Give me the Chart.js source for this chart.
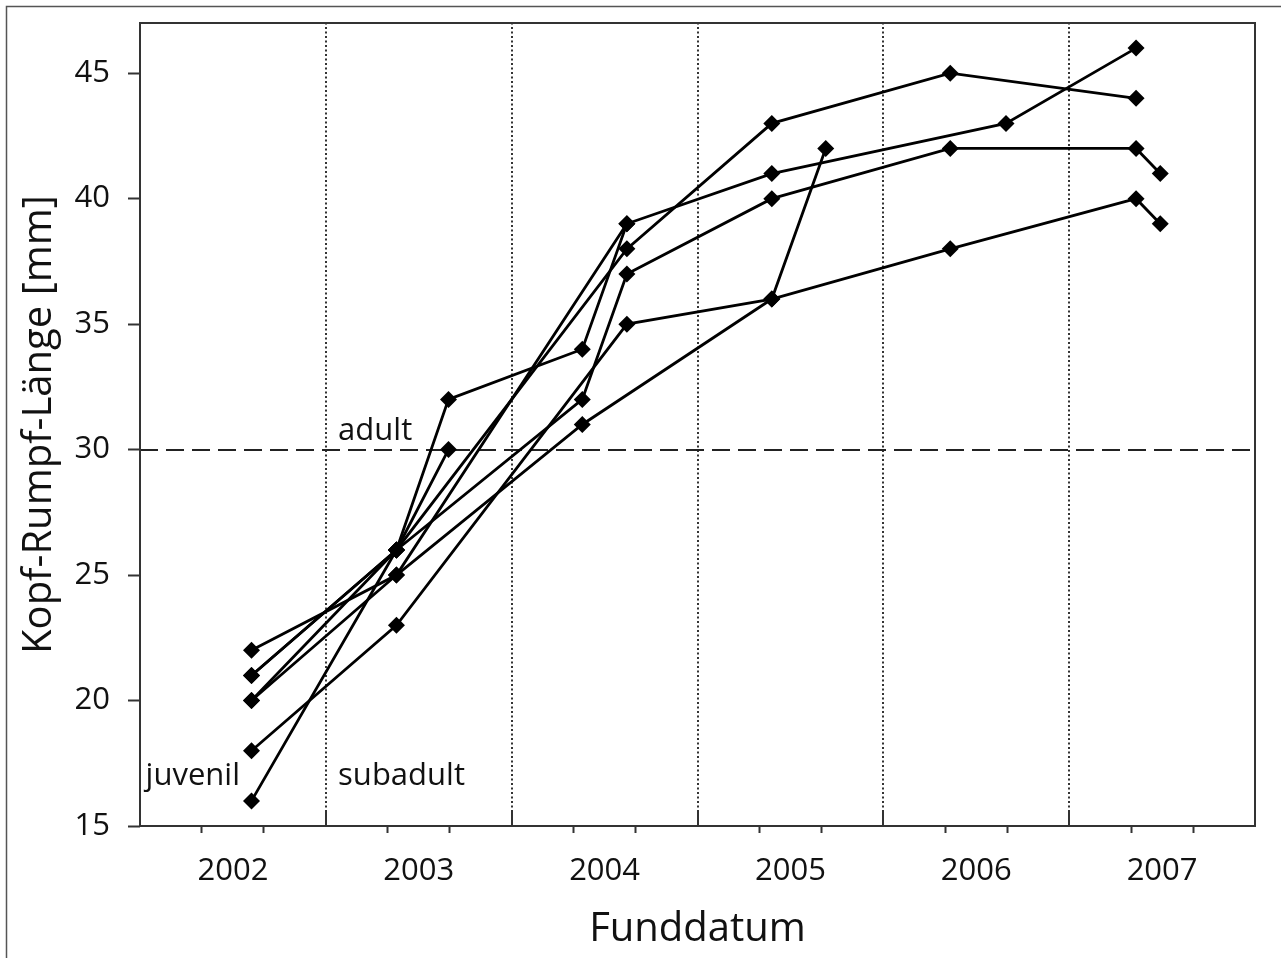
<!DOCTYPE html>
<html lang="de">
<head>
<meta charset="utf-8">
<title>Kopf-Rumpf-Länge nach Funddatum</title>
<script src="https://cdn.jsdelivr.net/npm/chart.js@4.4.1/dist/chart.umd.min.js"></script>
<style>
    html, body { margin: 0; padding: 0; background: #fff; overflow: hidden; }
    #wrap { position: relative; width: 1281px; height: 958px; }
</style>
</head>
<body>
<div id="wrap"><canvas id="krlChart"></canvas></div>
<script>
// ===== DATA =====
// Funddatum als Dezimaljahr, Kopf-Rumpf-Länge (KRL) in mm, je Tier
const tierA_datum = [2002.60, 2003.38, 2004.62];
const tierA_krl   = [22, 25, 39];

const tierB_datum = [2002.60, 2003.38, 2004.62, 2005.40, 2006.36, 2007.36];
const tierB_krl   = [21, 26, 38, 43, 45, 44];

const tierC_datum = [2002.60, 2003.38, 2004.38, 2004.62, 2005.40, 2006.36, 2007.36, 2007.49];
const tierC_krl   = [21, 26, 32, 37, 40, 42, 42, 41];

const tierD_datum = [2002.60, 2003.38, 2004.38, 2005.40, 2005.69];
const tierD_krl   = [20, 25, 31, 36, 42];

const tierE_datum = [2002.60, 2003.38, 2004.62, 2005.40, 2006.36, 2007.36, 2007.49];
const tierE_krl   = [18, 23, 35, 36, 38, 40, 39];

const tierF_datum = [2002.60, 2003.38, 2003.66];
const tierF_krl   = [16, 26, 30];

const tierG_datum = [2002.60, 2003.38, 2003.66, 2004.38, 2004.62, 2005.40, 2006.66, 2007.36];
const tierG_krl   = [20, 26, 32, 34, 39, 41, 43, 46];

const yearLabels = ['2002', '2003', '2004', '2005', '2006', '2007'];
const yearBounds = [2003, 2004, 2005, 2006, 2007];
const yTicks = [15, 20, 25, 30, 35, 40, 45];
const adultLimit = 30;

// ===== HELPERS =====
const FONT = "'Open Sans', 'DejaVu Sans', sans-serif";
const INK = '#111';

function toPoints(dates, values) {
    return dates.map((d, i) => ({ x: d, y: values[i] }));
}

function makeSeries(label, dates, values) {
    return {
        label: label,
        data: toPoints(dates, values),
        borderColor: '#000',
        borderWidth: 2.8,
        pointStyle: 'rectRot',
        pointRadius: 8.5,
        pointBackgroundColor: '#000',
        pointBorderWidth: 0,
        tension: 0
    };
}

function isMidYear(v) {
    const i = Math.round(v - 2002.5);
    return Math.abs(v - (2002.5 + i)) < 1e-6;
}

function isYearStart(v) {
    return Math.abs(v - Math.round(v)) < 1e-6;
}

// ===== PLUGIN: frame, year dividers, adult line, stage labels =====
const guides = {
    id: 'guides',
    beforeDraw(chart) {
        const ctx = chart.ctx;
        ctx.save();
        ctx.fillStyle = '#fff';
        ctx.fillRect(0, 0, chart.width, chart.height);
        ctx.strokeStyle = '#555';
        ctx.lineWidth = 1.5;
        ctx.strokeRect(6.5, 6.5, chart.width + 20, chart.height + 20);
        ctx.restore();
    },
    beforeDatasetsDraw(chart) {
        const { ctx, chartArea: a, scales: { x, y } } = chart;
        ctx.save();

        // year dividers: short solid tick inside, dotted above
        yearBounds.forEach(yr => {
            const px = Math.round(x.getPixelForValue(yr));
            ctx.setLineDash([]);
            ctx.strokeStyle = '#333';
            ctx.lineWidth = 2;
            ctx.beginPath();
            ctx.moveTo(px, a.bottom);
            ctx.lineTo(px, a.bottom - 14);
            ctx.stroke();
            ctx.setLineDash([2, 2.5]);
            ctx.lineWidth = 2;
            ctx.beginPath();
            ctx.moveTo(px, a.bottom - 14);
            ctx.lineTo(px, a.top);
            ctx.stroke();
        });

        // adult threshold
        const py = Math.round(y.getPixelForValue(adultLimit));
        ctx.setLineDash([18, 8]);
        ctx.strokeStyle = '#222';
        ctx.lineWidth = 2;
        ctx.beginPath();
        ctx.moveTo(a.left, py);
        ctx.lineTo(a.right, py);
        ctx.stroke();
        ctx.setLineDash([]);

        // stage labels
        ctx.fillStyle = INK;
        ctx.font = `31px ${FONT}`;
        ctx.textAlign = 'left';
        ctx.textBaseline = 'alphabetic';
        ctx.fillText('adult', x.getPixelForValue(2003.066), y.getPixelForValue(30.38));
        ctx.fillText('juvenil', x.getPixelForValue(2002.03), y.getPixelForValue(16.63));
        ctx.fillText('subadult', x.getPixelForValue(2003.066), y.getPixelForValue(16.63));

        // plot box
        ctx.strokeStyle = '#333';
        ctx.lineWidth = 2;
        ctx.strokeRect(a.left, a.top, a.right - a.left, a.bottom - a.top);
        ctx.restore();
    }
};

// ===== CHART =====
const chart = new Chart(document.getElementById('krlChart'), {
    type: 'line',
    data: {
        datasets: [
            makeSeries('A', tierA_datum, tierA_krl),
            makeSeries('B', tierB_datum, tierB_krl),
            makeSeries('C', tierC_datum, tierC_krl),
            makeSeries('D', tierD_datum, tierD_krl),
            makeSeries('E', tierE_datum, tierE_krl),
            makeSeries('F', tierF_datum, tierF_krl),
            makeSeries('G', tierG_datum, tierG_krl)
        ]
    },
    options: {
        responsive: true,
        maintainAspectRatio: false,
        animation: false,
        layout: { padding: { left: 0, top: 23, right: 26, bottom: 0 } },
        plugins: {
            legend: { display: false },
            tooltip: { enabled: false }
        },
        scales: {
            x: {
                type: 'linear',
                min: 2002,
                max: 2008,
                afterBuildTicks: (scale) => {
                    const ticks = [];
                    for (let k = 0; k <= 18; k++) ticks.push({ value: 2002 + k / 3 });
                    yearLabels.forEach((lbl, i) => ticks.push({ value: 2002.5 + i }));
                    ticks.sort((p, q) => p.value - q.value);
                    scale.ticks = ticks;
                },
                afterFit: (scale) => {
                    scale.height = 132;
                    scale.paddingLeft = 0;
                    scale.paddingRight = 0;
                },
                grid: {
                    drawOnChartArea: false,
                    tickLength: 7,
                    tickWidth: 2,
                    tickColor: (c) => {
                        const v = c.tick ? c.tick.value : 0;
                        return (isMidYear(v) || isYearStart(v)) ? 'rgba(0,0,0,0)' : '#333';
                    }
                },
                border: { display: false },
                ticks: {
                    autoSkip: false,
                    maxRotation: 0,
                    includeBounds: false,
                    padding: 20,
                    color: INK,
                    font: { family: FONT, size: 31 },
                    callback: (value) => {
                        if (!isMidYear(value)) return '';
                        return yearLabels[Math.round(value - 2002.5)];
                    }
                },
                title: {
                    display: true,
                    text: 'Funddatum',
                    color: INK,
                    font: { family: FONT, size: 40 },
                    padding: { top: 0, bottom: 4 }
                }
            },
            y: {
                min: 15,
                max: 47,
                afterBuildTicks: (scale) => {
                    scale.ticks = yTicks.map(v => ({ value: v }));
                },
                afterFit: (scale) => {
                    scale.width = 140;
                    scale.paddingTop = 0;
                    scale.paddingBottom = 0;
                },
                grid: {
                    drawOnChartArea: false,
                    tickLength: 12,
                    tickWidth: 2,
                    tickColor: '#333'
                },
                border: { display: false },
                ticks: {
                    padding: 18,
                    color: INK,
                    font: { family: FONT, size: 31 }
                },
                title: {
                    display: true,
                    text: 'Kopf-Rumpf-Länge [mm]',
                    color: INK,
                    font: { family: FONT, size: 40 },
                    padding: { top: 16, bottom: 0 }
                }
            }
        }
    },
    plugins: [guides]
});
</script>
</body>
</html>
